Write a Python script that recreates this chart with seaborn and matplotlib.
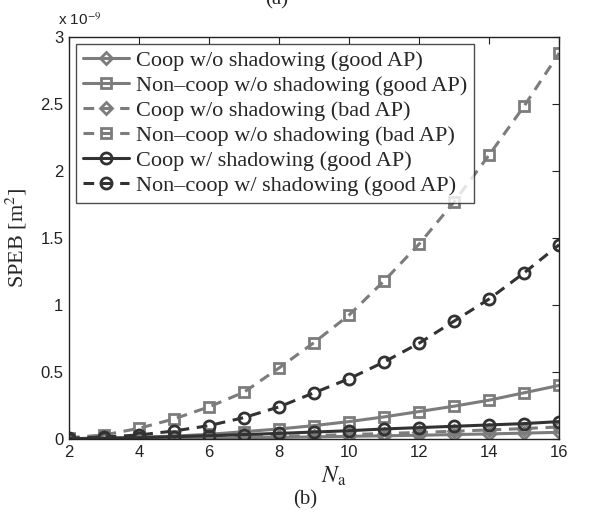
import numpy as np
import pandas as pd
import matplotlib
matplotlib.use("Agg")
import matplotlib.pyplot as plt
import seaborn as sns

# Number of anchors
n_anchors = [2, 3, 4, 5, 6, 7, 8, 9, 10, 11, 12, 13, 14, 15, 16]

# SPEB values in units of 1e-9 m^2
coop_noshadow_good = [0.0, 0.001, 0.002, 0.004, 0.006, 0.009, 0.012, 0.016, 0.020, 0.024, 0.028, 0.033, 0.038, 0.044, 0.050]
noncoop_noshadow_good = [0.003, 0.007, 0.013, 0.022, 0.035, 0.055, 0.075, 0.10, 0.13, 0.165, 0.205, 0.245, 0.29, 0.345, 0.40]
coop_noshadow_bad = [0.0, 0.001, 0.003, 0.006, 0.010, 0.015, 0.020, 0.026, 0.033, 0.041, 0.049, 0.058, 0.068, 0.078, 0.090]
noncoop_noshadow_bad = [0.01, 0.03, 0.08, 0.15, 0.24, 0.35, 0.53, 0.72, 0.925, 1.18, 1.455, 1.77, 2.12, 2.485, 2.88]
coop_shadow_good = [0.002, 0.005, 0.010, 0.017, 0.025, 0.033, 0.042, 0.052, 0.062, 0.075, 0.085, 0.095, 0.105, 0.115, 0.13]
noncoop_shadow_good = [0.005, 0.015, 0.03, 0.06, 0.10, 0.16, 0.24, 0.345, 0.45, 0.575, 0.715, 0.88, 1.045, 1.24, 1.45]

labels = [
    "Coop w/o shadowing (good AP)",
    "Non\u2013coop w/o shadowing (good AP)",
    "Coop w/o shadowing (bad AP)",
    "Non\u2013coop w/o shadowing (bad AP)",
    "Coop w/ shadowing (good AP)",
    "Non\u2013coop w/ shadowing (good AP)",
]
series = [coop_noshadow_good, noncoop_noshadow_good, coop_noshadow_bad,
          noncoop_noshadow_bad, coop_shadow_good, noncoop_shadow_good]

light = "#7c7c7c"
dark = "#323232"
dash = (0, (3.5, 2.5))
styles = [
    dict(color=light, ls="-", marker="D", ms=6),
    dict(color=light, ls="-", marker="s", ms=7),
    dict(color=light, ls=dash, marker="D", ms=6),
    dict(color=light, ls=dash, marker="s", ms=7),
    dict(color=dark, ls="-", marker="o", ms=8),
    dict(color=dark, ls=dash, marker="o", ms=8),
]

sns.set_style("white")
plt.rcParams["font.family"] = ["Liberation Sans", "DejaVu Sans"]
plt.rcParams["mathtext.fontset"] = "stix"

fig = plt.figure(figsize=(6.15, 5.14), dpi=100)
ax = fig.add_axes([0.1122, 0.1459, 0.797, 0.782])

for vals, lab, st in zip(series, labels, styles):
    df = pd.DataFrame({"Na": n_anchors, "speb": vals})
    sns.lineplot(data=df, x="Na", y="speb", ax=ax, label=lab,
                 color=st["color"], linestyle=st["ls"], linewidth=2.2,
                 marker=st["marker"], markersize=st["ms"],
                 markerfacecolor="none", markeredgecolor=st["color"],
                 markeredgewidth=2.0)

ax.set_xlim(2, 16)
ax.set_ylim(0, 3)
ax.set_xticks(range(2, 17, 2))
ax.set_yticks(np.arange(0, 3.01, 0.5))
ax.set_yticklabels(["0", "0.5", "1", "1.5", "2", "2.5", "3"])
ax.tick_params(direction="in", length=5, width=0.8, labelsize=12,
               top=True, right=True, colors="#222222", pad=4)
for sp in ax.spines.values():
    sp.set_color("#222222")
    sp.set_linewidth(1.0)
    sp.set_visible(True)

serif = ["Liberation Serif", "DejaVu Serif"]
ax.set_xlabel(r"$N_{\mathrm{a}}$", fontsize=17, labelpad=0)
ax.xaxis.set_label_coords(0.54, -0.065)
ax.set_ylabel(r"SPEB [m$^2$]", fontsize=16, family=serif, labelpad=8)

ax.text(-0.023, 1.022, r"x 10$^{-9}$", transform=ax.transAxes, fontsize=11,
        ha="left", va="bottom", color="#222222")

leg = ax.legend(loc="upper left", bbox_to_anchor=(0.0143, 0.9826),
                prop={"family": serif, "size": 16}, frameon=True,
                fancybox=False, handlelength=2.1, handletextpad=0.3,
                labelspacing=0.2, borderpad=0.3, borderaxespad=0.0)
leg.get_frame().set_edgecolor("#222222")
leg.get_frame().set_linewidth(1.0)

fig.text(0.497, 0.028, "(b)", ha="center", va="center", fontsize=15, family=serif)
fig.text(0.45, 1.0, "(a)", ha="center", va="center", fontsize=15, family=serif)

fig.savefig("out.png", dpi=100, facecolor="white")
